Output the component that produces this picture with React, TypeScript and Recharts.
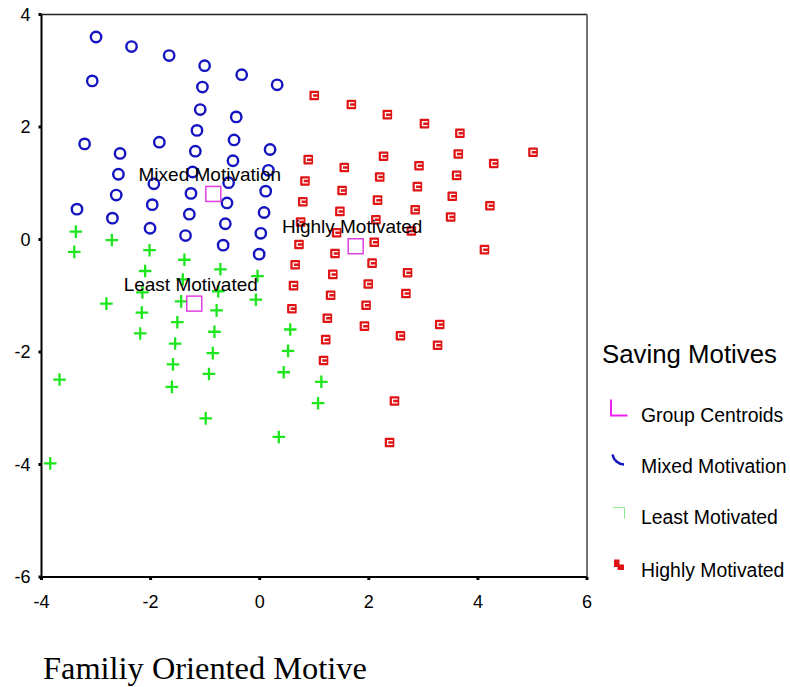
import { ReferenceLine, Scatter, ScatterChart, XAxis, YAxis } from 'recharts'

/** Marker + frame inks, picked off the SPSS-style reference. */
const BLUE = '#1414c0'
const GREEN = '#1ee61e'
const RED = '#e01414'
const MAGENTA = '#e040e0'
const SANS = 'Liberation Sans, Arial, sans-serif'

const X_TICKS = [-4, -2, 0, 2, 4, 6]
const Y_TICKS = [-6, -4, -2, 0, 2, 4]

const MIXED: [number, number][] = [
  [-3.0, 3.6], [-2.35, 3.43], [-1.66, 3.27], [-1.01, 3.09], [-0.33, 2.93], [0.32, 2.75],
  [-3.07, 2.82], [-1.05, 2.71], [-1.09, 2.31], [-0.43, 2.18], [-1.15, 1.94], [-0.47, 1.77],
  [-3.21, 1.7], [-1.84, 1.73], [0.19, 1.6], [-2.56, 1.53], [-1.18, 1.57], [-0.49, 1.4],
  [-2.59, 1.16], [-1.23, 1.2], [0.16, 1.23], [-1.94, 0.99], [-0.57, 1.01], [-2.63, 0.79],
  [-1.26, 0.82], [0.11, 0.86], [-3.35, 0.54], [-1.97, 0.62], [-0.6, 0.65], [-2.7, 0.38],
  [-1.29, 0.45], [0.08, 0.48], [-2.01, 0.2], [-0.63, 0.28], [-1.36, 0.07], [0.02, 0.11],
  [-0.67, -0.1], [-0.01, -0.26],
]

const LEAST: [number, number][] = [
  [-3.37, 0.14], [-3.4, -0.22], [-2.71, -0.01], [-2.02, -0.19], [-2.1, -0.56], [-1.38, -0.36],
  [-0.72, -0.53], [-0.04, -0.65], [-2.81, -1.14], [-2.15, -0.94], [-2.16, -1.3], [-2.19, -1.67],
  [-1.44, -1.1], [-0.76, -0.92], [-0.79, -1.26], [-1.51, -1.47], [-0.83, -1.64], [-1.55, -1.85],
  [-0.86, -2.02], [-1.59, -2.22], [-0.93, -2.39], [-1.61, -2.62], [-0.99, -3.18], [-0.07, -1.07],
  [-3.67, -2.49], [-3.84, -3.98], [0.56, -1.6], [0.52, -1.98], [0.44, -2.36], [0.35, -3.51],
  [1.13, -2.53], [1.07, -2.91], [-1.41, -0.71],
]

const HIGHLY: [number, number][] = [
  [1.0, 2.56], [1.68, 2.4], [2.34, 2.22], [3.02, 2.06], [3.67, 1.89], [5.01, 1.55],
  [3.64, 1.52], [4.29, 1.35], [2.27, 1.48], [2.92, 1.31], [3.61, 1.14], [0.89, 1.42],
  [1.55, 1.28], [2.2, 1.11], [2.89, 0.94], [3.53, 0.77], [4.22, 0.6], [0.83, 1.04],
  [1.51, 0.87], [2.16, 0.7], [2.85, 0.53], [3.5, 0.4], [0.79, 0.67], [1.47, 0.5],
  [2.13, 0.35], [2.78, 0.15], [4.12, -0.18], [0.75, 0.31], [1.41, 0.12], [2.1, -0.05],
  [0.72, -0.09], [1.38, -0.25], [2.06, -0.42], [0.65, -0.45], [1.34, -0.62], [2.71, -0.59],
  [0.62, -0.82], [1.3, -0.99], [1.99, -0.79], [2.68, -0.96], [0.59, -1.23], [1.24, -1.4],
  [1.95, -1.17], [3.3, -1.51], [1.92, -1.54], [1.21, -1.78], [2.58, -1.71], [3.26, -1.88],
  [1.17, -2.15], [2.47, -2.87], [2.38, -3.61],
]

const CENTROID_NAMES = ['Mixed Motivation', 'Least Motivated', 'Highly Motivated']
const CENTROIDS: [number, number][] = [[-0.85, 0.81], [-1.2, -1.14], [1.76, -0.12]]

const LEGEND_LABELS = ['Group Centroids', 'Mixed Motivation', 'Least Motivated', 'Highly Motivated']

const toPoints = (pts: [number, number][]) => pts.map(([x, y]) => ({ x, y }))

function Circle(p: any) {
  return <circle cx={p.cx} cy={p.cy} r={5.2} fill="none" stroke={BLUE} strokeWidth={2.4} />
}

function Plus(p: any) {
  const { cx, cy } = p
  return (
    <path
      d={`M${cx - 6.3},${cy}H${cx + 6.3}M${cx},${cy - 6.3}V${cy + 6.3}`}
      stroke={GREEN}
      strokeWidth={2.3}
      fill="none"
    />
  )
}

function RedBox(p: any) {
  const { cx, cy } = p
  return (
    <g>
      <rect x={cx - 4.8} y={cy - 4.8} width={9.6} height={9.6} rx={1} fill={RED} />
      <path d={`M${cx + 3.2},${cy - 1.9}H${cx - 1.9}V${cy + 1.9}H${cx + 3.2}`} stroke="#fff" strokeWidth={1.3} fill="none" />
    </g>
  )
}

function Centroid(p: any) {
  const { cx, cy, payload } = p
  return (
    <g>
      <rect x={cx - 7.5} y={cy - 7.5} width={15} height={15} fill="none" stroke={MAGENTA} strokeWidth={1.5} />
      <text x={cx - 3.5} y={cy - 13} textAnchor="middle" fontFamily={SANS} fontSize={19} fill="#000">
        {payload.name}
      </text>
    </g>
  )
}

function LegendIcon({ i, y }: { i: number; y: number }) {
  if (i === 0)
    return <path d={`M611,${y - 16}V${y}H627.5`} stroke="#f020f0" strokeWidth={2} fill="none" />
  if (i === 1)
    return <path d={`M612.5,${y - 10} A12,12 0 0 0 624,${y}`} stroke={BLUE} strokeWidth={2.5} fill="none" />
  if (i === 2)
    return <path d={`M613,${y - 11}H624.5V${y}`} stroke="#8ee88e" strokeWidth={1} fill="none" />
  return (
    <g fill={RED}>
      <rect x={614} y={y - 10} width={5.5} height={7.5} />
      <rect x={617.5} y={y - 5} width={6.5} height={5.5} />
    </g>
  )
}

export default function App() {
  const centroidData = CENTROIDS.map(([x, y], i) => ({ x, y, name: CENTROID_NAMES[i] }))
  const legendBaselines = [421.5, 473, 524, 576.5]
  const iconBottoms = [415.5, 464.5, 518.5, 569.5]
  return (
    <div style={{ position: 'absolute', left: 0, top: 0, width: 790, height: 687, background: '#fff' }}>
      <ScatterChart width={790} height={687} margin={{ top: 14.5, right: 203, bottom: 0, left: 0 }}>
        <XAxis
          type="number"
          dataKey="x"
          domain={[-4, 6]}
          ticks={X_TICKS}
          height={110}
          tickSize={3}
          tickMargin={15}
          axisLine={{ stroke: '#000', strokeWidth: 2 }}
          tickLine={{ stroke: '#000', strokeWidth: 3 }}
          tick={{ fill: '#000', fontSize: 18, fontFamily: SANS }}
        />
        <YAxis
          type="number"
          dataKey="y"
          domain={[-6, 4]}
          ticks={Y_TICKS}
          width={41.5}
          tickSize={3}
          tickMargin={8}
          axisLine={{ stroke: '#000', strokeWidth: 2 }}
          tickLine={{ stroke: '#000', strokeWidth: 3 }}
          tick={{ fill: '#000', fontSize: 18, fontFamily: SANS }}
        />
        <ReferenceLine y={4} stroke="#222" strokeWidth={1.5} />
        <ReferenceLine x={6} stroke="#444" strokeWidth={1.5} />
        <Scatter data={toPoints(MIXED)} shape={Circle} isAnimationActive={false} />
        <Scatter data={toPoints(LEAST)} shape={Plus} isAnimationActive={false} />
        <Scatter data={toPoints(HIGHLY)} shape={RedBox} isAnimationActive={false} />
        <Scatter data={centroidData} shape={Centroid} isAnimationActive={false} />
      </ScatterChart>
      <svg width={790} height={687} style={{ position: 'absolute', left: 0, top: 0, pointerEvents: 'none' }}>
        <text x={602} y={363} fontFamily={SANS} fontSize={25.8} fill="#000">
          Saving Motives
        </text>
        {LEGEND_LABELS.map((label, i) => (
          <g key={label}>
            <LegendIcon i={i} y={iconBottoms[i]} />
            <text x={641} y={legendBaselines[i]} fontFamily={SANS} fontSize={19.4} fill="#000">
              {label}
            </text>
          </g>
        ))}
        <text x={43} y={679} fontFamily="Liberation Serif, Times New Roman, serif" fontSize={32.4} fill="#000">
          Familiy Oriented Motive
        </text>
      </svg>
    </div>
  )
}
